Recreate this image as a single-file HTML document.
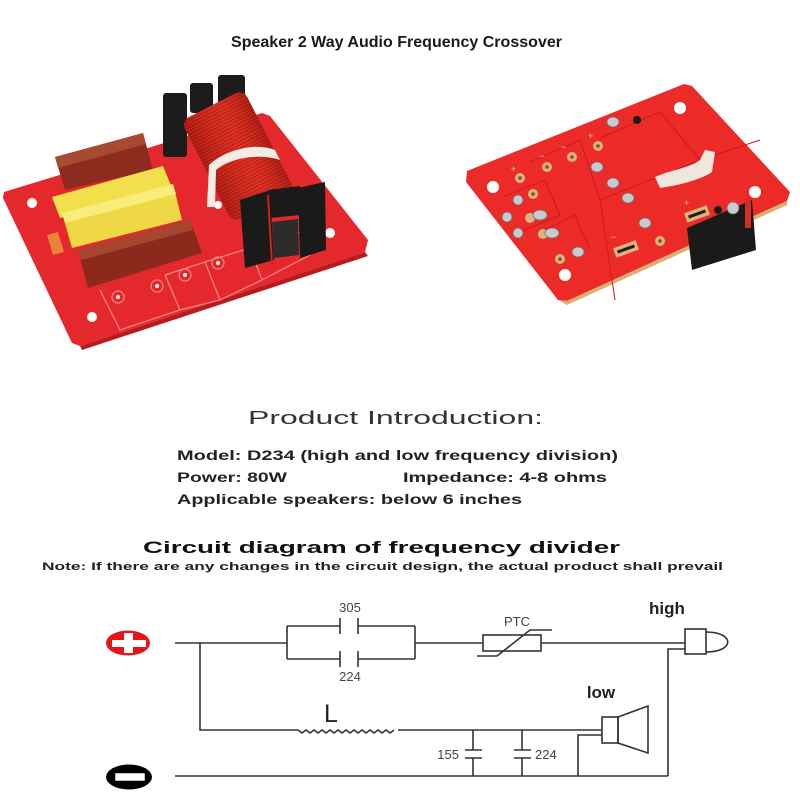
<!DOCTYPE html>
<html><head><meta charset="utf-8">
<style>
html,body{margin:0;padding:0;background:#fff;}
svg{display:block;}
text{font-family:"Liberation Sans",sans-serif;}
</style></head>
<body>
<svg width="800" height="800" viewBox="0 0 800 800" xmlns="http://www.w3.org/2000/svg">
<defs>
<pattern id="coilp" width="3.2" height="10" patternUnits="userSpaceOnUse">
<rect width="3.2" height="10" fill="#e0281c"/>
<rect width="1" height="10" fill="#9a1a12"/>
</pattern>
<linearGradient id="coilg" x1="0" y1="0" x2="0" y2="1">
<stop offset="0" stop-color="#5a0a06" stop-opacity="0.3"/>
<stop offset="0.4" stop-color="#ff6040" stop-opacity="0.15"/>
<stop offset="1" stop-color="#5a0a06" stop-opacity="0.3"/>
</linearGradient>
</defs>
<rect width="800" height="800" fill="#fff"/>

<text x="231" y="47" font-size="16" font-weight="bold" fill="#1a1a1a" textLength="331" lengthAdjust="spacingAndGlyphs">Speaker 2 Way Audio Frequency Crossover</text>

<!-- LEFT PHOTO -->
<polygon points="4,192 262,113 270,116 368,240 365,252 80,346 72,343 3,198" fill="#e4282c"/>
<polygon points="80,346 365,252 368,256 82,350" fill="#b81a1e"/>
<g fill="none" stroke="#f6a0a0" stroke-width="1.2" opacity="0.8">
<polyline points="100,290 120,330 180,310 165,275"/>
<polyline points="165,275 205,262 220,300 180,310"/>
<polyline points="205,262 250,248 262,280 220,300"/>
<polyline points="250,248 300,232 310,255 262,280"/>
<circle cx="118" cy="297" r="6"/><circle cx="157" cy="286" r="6"/>
<circle cx="185" cy="275" r="6"/><circle cx="218" cy="263" r="6"/>
</g>
<g fill="#fff">
<circle cx="32" cy="203" r="5"/><circle cx="92" cy="317" r="5"/>
<circle cx="330" cy="233" r="5"/><circle cx="218" cy="205" r="4"/>
<circle cx="118" cy="297" r="2"/><circle cx="157" cy="286" r="2"/>
<circle cx="185" cy="275" r="2"/><circle cx="218" cy="263" r="2"/>
</g>
<g fill="#1c1c1c">
<rect x="163" y="93" width="24" height="64" rx="3"/>
<rect x="190" y="83" width="23" height="30" rx="3"/>
<rect x="218" y="75" width="27" height="42" rx="3"/>
</g>
<g transform="translate(238,156) rotate(63)">
<rect x="-57" y="-35" width="114" height="70" rx="9" fill="url(#coilp)"/>
<rect x="-57" y="-35" width="114" height="70" rx="9" fill="url(#coilg)"/>
</g>
<path d="M207,207 L209,165 C225,150 255,142 275,150 L280,160 C258,153 230,158 216,170 L215,207 Z" fill="#f1ece4"/>
<g fill="#1a1a1a">
<polygon points="240,200 270,190 274,260 245,268"/>
<polygon points="298,188 325,182 326,250 300,258"/>
<polygon points="268,190 300,186 300,215 270,218"/>
</g>
<polygon points="272,222 298,219 299,255 274,258" fill="#2c2c2c"/>
<line x1="268" y1="195" x2="272" y2="265" stroke="#c82418" stroke-width="2"/>
<polygon points="55,157 143,133 153,170 65,190" fill="#8d2c1e"/>
<polygon points="55,157 143,133 146,144 58,168" fill="#a84a32"/>
<polygon points="52,197 163,166 172,188 60,218" fill="#f1e04c"/>
<polygon points="62,213 173,184 182,220 72,248" fill="#eed845"/>
<polygon points="62,213 173,184 176,194 65,223" fill="#f8ec7a"/>
<polygon points="78,250 190,220 202,253 88,288" fill="#8b2a1c"/>
<polygon points="78,250 190,220 193,230 81,260" fill="#a74630"/>
<polygon points="47,235 58,232 64,252 53,255" fill="#e8843a"/>

<!-- RIGHT PHOTO -->
<polygon points="467,171 684,84 692,86 790,192 787,201 567,301 558,300 466,182" fill="#ec2a28"/>
<polygon points="558,300 567,301 787,201 787,205 567,305" fill="#d8b070"/>
<g fill="#1a1a1a">
<polygon points="687,228 752,200 756,250 692,270"/>
</g>
<rect x="745" y="198" width="6" height="30" fill="#d0301e"/>
<g fill="none" stroke="#c81c1c" stroke-width="1">
<polyline points="530,162 580,140 600,200 615,300"/>
<polyline points="600,138 660,112 700,160"/>
<polyline points="600,200 700,160 760,140"/>
<polyline points="503,197 545,180 560,215 520,232"/>
<polyline points="545,230 575,215 590,250"/>
</g>
<g fill="#fff">
<circle cx="493" cy="187" r="6"/><circle cx="680" cy="108" r="6"/>
<circle cx="755" cy="192" r="6"/><circle cx="565" cy="275" r="6"/>
</g>
<g fill="#d9b483">
<circle cx="520" cy="178" r="5"/><circle cx="547" cy="167" r="5"/>
<circle cx="572" cy="157" r="5"/><circle cx="598" cy="146" r="5"/>
<circle cx="533" cy="194" r="5"/><circle cx="530" cy="218" r="5"/>
<circle cx="543" cy="234" r="5"/><circle cx="560" cy="259" r="5"/>
<circle cx="660" cy="241" r="5"/>
</g>
<g fill="#8a4a30">
<circle cx="520" cy="178" r="1.8"/><circle cx="547" cy="167" r="1.8"/>
<circle cx="572" cy="157" r="1.8"/><circle cx="598" cy="146" r="1.8"/>
<circle cx="533" cy="194" r="1.8"/><circle cx="560" cy="259" r="1.8"/>
<circle cx="660" cy="241" r="1.8"/>
</g>
<g fill="#c9c9cf" stroke="#6e6e75" stroke-width="0.8">
<ellipse cx="613" cy="122" rx="6" ry="5"/><ellipse cx="597" cy="167" rx="6" ry="5"/>
<ellipse cx="613" cy="183" rx="6" ry="5"/><ellipse cx="628" cy="198" rx="6" ry="5"/>
<ellipse cx="518" cy="200" rx="5" ry="5"/><ellipse cx="507" cy="217" rx="5" ry="5"/>
<ellipse cx="518" cy="233" rx="5" ry="5"/><ellipse cx="540" cy="215" rx="7" ry="5"/>
<ellipse cx="552" cy="233" rx="7" ry="5"/><ellipse cx="578" cy="252" rx="6" ry="5"/>
<ellipse cx="645" cy="223" rx="6" ry="5"/><ellipse cx="733" cy="208" rx="6" ry="6"/>
</g>
<g fill="#1a1a1a"><circle cx="637" cy="120" r="4"/><circle cx="718" cy="210" r="4"/></g>
<g transform="translate(626,249) rotate(-20)"><rect x="-12" y="-5" width="24" height="10" fill="#d9b483"/><rect x="-9" y="-1.5" width="18" height="3" fill="#2a1a14"/></g>
<g transform="translate(697,214) rotate(-20)"><rect x="-12" y="-5" width="24" height="10" fill="#d9b483"/><rect x="-9" y="-1.5" width="18" height="3" fill="#2a1a14"/></g>
<path d="M655,177 C670,170 690,168 700,160 L705,150 L715,152 L712,172 C700,180 680,185 660,188 Z" fill="#efe6dc"/>
<g fill="#f7d0a0" font-size="9">
<text x="511" y="172">+</text><text x="539" y="159">−</text><text x="561" y="150">−</text>
<text x="588" y="139">+</text><text x="611" y="240">−</text><text x="684" y="206">+</text>
</g>

<text x="248" y="424" font-size="18" fill="#333" textLength="295" lengthAdjust="spacingAndGlyphs">Product Introduction:</text>
<g font-size="13.5" font-weight="bold" fill="#222">
<text x="177" y="460" textLength="441" lengthAdjust="spacingAndGlyphs">Model: D234 (high and low frequency division)</text>
<text x="177" y="482" textLength="110" lengthAdjust="spacingAndGlyphs">Power: 80W</text>
<text x="403" y="482" textLength="204" lengthAdjust="spacingAndGlyphs">Impedance: 4-8 ohms</text>
<text x="177" y="504" textLength="345" lengthAdjust="spacingAndGlyphs">Applicable speakers: below 6 inches</text>
</g>
<text x="143" y="553" font-size="17" font-weight="bold" fill="#111" textLength="477" lengthAdjust="spacingAndGlyphs">Circuit diagram of frequency divider</text>
<text x="42" y="570" font-size="11" font-weight="bold" fill="#222" textLength="681" lengthAdjust="spacingAndGlyphs">Note: If there are any changes in the circuit design, the actual product shall prevail</text>

<!-- CIRCUIT -->
<ellipse cx="128" cy="643" rx="22" ry="12.5" fill="#e3141a"/>
<rect x="112" y="640" width="34" height="7" fill="#fff"/>
<rect x="124" y="633" width="9" height="20" fill="#fff"/>
<ellipse cx="129" cy="777" rx="23" ry="12.5" fill="#000"/>
<rect x="115" y="773" width="30" height="8" fill="#fff" stroke="#000" stroke-width="0.5"/>

<g fill="none" stroke="#333" stroke-width="1.6">
<polyline points="175,643 287,643"/>
<polyline points="200,643 200,730 298,730"/>
<polyline points="287,626 287,659"/>
<polyline points="287,626 340,626"/><polyline points="358,626 415,626"/>
<polyline points="287,659 340,659"/><polyline points="358,659 415,659"/>
<polyline points="415,626 415,659"/>
<line x1="340" y1="618" x2="340" y2="634"/><line x1="358" y1="618" x2="358" y2="634"/>
<line x1="340" y1="651" x2="340" y2="667"/><line x1="358" y1="651" x2="358" y2="667"/>
<polyline points="415,643 483,643"/>
<rect x="483" y="635" width="58" height="16"/>
<polyline points="477,656 497,656 530,630 552,630"/>
<polyline points="541,643 685,643"/>
<rect x="685" y="629" width="21" height="25"/>
<path d="M706,632 C735,632 735,652 706,652"/>
<polyline points="685,649 668,649 668,776"/>
<polyline points="175,776 668,776"/>
<path d="M298,730 l4,3 4,-3 4,3 4,-3 4,3 4,-3 4,3 4,-3 4,3 4,-3 4,3 4,-3 4,3 4,-3 4,3 4,-3 4,3 4,-3 4,3 4,-3 4,3 4,-3 4,3 4,-3"/>
<polyline points="398,730 602,730"/>
<polyline points="473,730 473,750"/><polyline points="473,758 473,776"/>
<line x1="465" y1="750" x2="482" y2="750"/><line x1="465" y1="758" x2="482" y2="758"/>
<polyline points="522,730 522,750"/><polyline points="522,758 522,776"/>
<line x1="514" y1="750" x2="531" y2="750"/><line x1="514" y1="758" x2="531" y2="758"/>
<polyline points="578,776 578,735 602,735"/>
<rect x="602" y="717" width="16" height="26"/>
<polygon points="618,717 648,706 648,753 618,743"/>
</g>
<g fill="#444" font-size="13">
<text x="350" y="612" text-anchor="middle">305</text>
<text x="350" y="681" text-anchor="middle">224</text>
<text x="517" y="626" text-anchor="middle">PTC</text>
<text x="459" y="759" text-anchor="end">155</text>
<text x="535" y="759">224</text>
</g>
<text x="324" y="722" font-size="25" fill="#222">L</text>
<text x="667" y="614" font-size="17" font-weight="bold" fill="#222" text-anchor="middle">high</text>
<text x="601" y="698" font-size="17" font-weight="bold" fill="#222" text-anchor="middle">low</text>
</svg>
</body></html>
